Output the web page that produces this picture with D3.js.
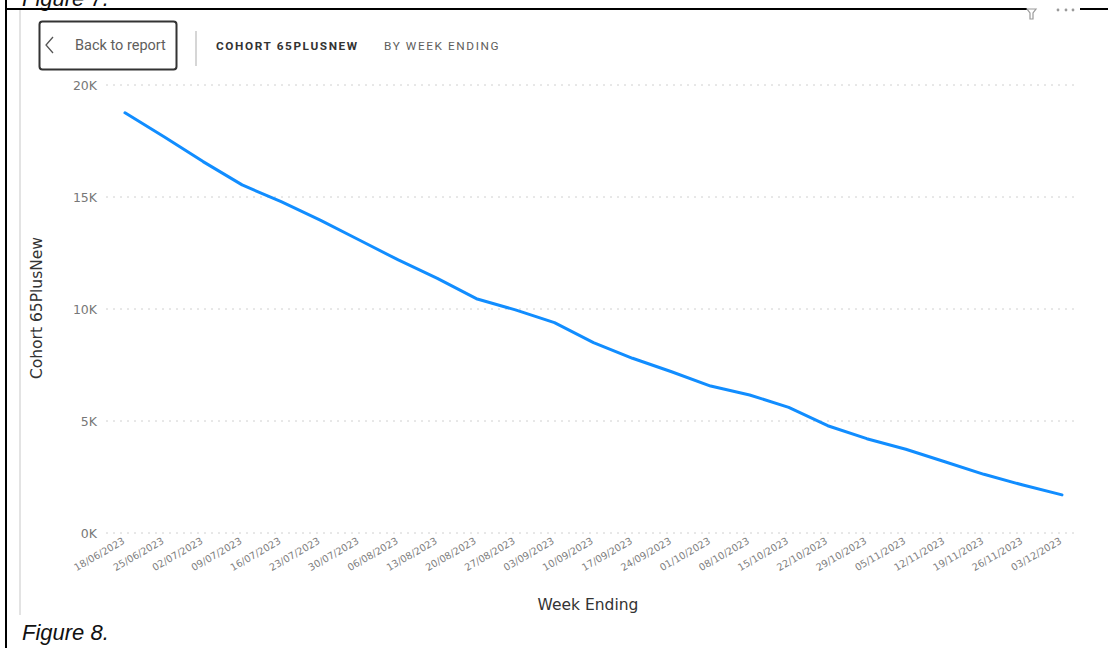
<!DOCTYPE html>
<html>
<head>
<meta charset="utf-8">
<script src="https://cdn.jsdelivr.net/npm/d3@7"></script>
<style>
  html, body { margin: 0; padding: 0; background: #fff; }
  svg { display: block; }
</style>
</head>
<body>
<svg id="chart" width="1108" height="648"></svg>
<script>
// Weekly cohort counts
const weeks = ["18/06/2023","25/06/2023","02/07/2023","09/07/2023","16/07/2023","23/07/2023","30/07/2023",
  "06/08/2023","13/08/2023","20/08/2023","27/08/2023","03/09/2023","10/09/2023","17/09/2023","24/09/2023",
  "01/10/2023","08/10/2023","15/10/2023","22/10/2023","29/10/2023","05/11/2023","12/11/2023","19/11/2023",
  "26/11/2023","03/12/2023"];
const cohortValues = [18760, 17690, 16580, 15540, 14790, 13970, 13080, 12190, 11370, 10460, 9960, 9390,
  8500, 7800, 7200, 6560, 6160, 5610, 4790, 4210, 3740, 3180, 2620, 2140, 1700];
const yTicks = [0, 5000, 10000, 15000, 20000];
const yTickLabels = ["0K", "5K", "10K", "15K", "20K"];

const svg = d3.select("#chart");
const W = 1108, H = 648;

// document frame
svg.append("text").attr("x", 22).attr("y", 6)
  .attr("font-family", "Liberation Sans, sans-serif").attr("font-style", "italic")
  .attr("font-size", 22).attr("fill", "#111").text("Figure 7.");
svg.append("line").attr("x1", 6).attr("x2", W).attr("y1", 9).attr("y2", 9)
  .attr("stroke", "#000").attr("stroke-width", 2);
svg.append("line").attr("x1", 6).attr("x2", 6).attr("y1", 0).attr("y2", H)
  .attr("stroke", "#000").attr("stroke-width", 2);
svg.append("text").attr("x", 22).attr("y", 640)
  .attr("font-family", "Liberation Sans, sans-serif").attr("font-style", "italic")
  .attr("font-size", 22).attr("fill", "#111").text("Figure 8.");

// report visual edge
svg.append("line").attr("x1", 20).attr("x2", 20).attr("y1", 10).attr("y2", 615)
  .attr("stroke", "#e3e3e3").attr("stroke-width", 2);

// header icons (filter + more)
svg.append("rect").attr("x", 1027).attr("y", 5).attr("width", 53).attr("height", 10).attr("fill", "#fff");
svg.append("path").attr("d", "M1027,9 L1036,9 L1033,13 L1033,19 L1030,19 L1030,13 Z")
  .attr("fill", "none").attr("stroke", "#9a9a9a").attr("stroke-width", 1.2);
[1058, 1066, 1073].forEach(cx => svg.append("circle").attr("cx", cx).attr("cy", 10).attr("r", 1.4).attr("fill", "#9a9a9a"));

// back button
svg.append("rect").attr("x", 39.5).attr("y", 21.5).attr("width", 137).attr("height", 48).attr("rx", 3)
  .attr("fill", "#fff").attr("stroke", "#333").attr("stroke-width", 2);
svg.append("path").attr("d", "M53,37 L46,45 L53,53").attr("fill", "none")
  .attr("stroke", "#555").attr("stroke-width", 1.3);
svg.append("text").attr("x", 75).attr("y", 50)
  .attr("font-family", "Roboto, sans-serif").attr("font-size", 14.5).attr("fill", "#605e5c")
  .text("Back to report");
svg.append("line").attr("x1", 196).attr("x2", 196).attr("y1", 31).attr("y2", 66)
  .attr("stroke", "#c8c8c8").attr("stroke-width", 1.5);
svg.append("text").attr("x", 216).attr("y", 49.5)
  .attr("font-family", "Roboto, sans-serif").attr("font-size", 11.8).attr("font-weight", "bold")
  .attr("letter-spacing", 1.6).attr("fill", "#333").text("COHORT 65PLUSNEW");
svg.append("text").attr("x", 384).attr("y", 49.5)
  .attr("font-family", "Roboto, sans-serif").attr("font-size", 11.8)
  .attr("letter-spacing", 1.6).attr("fill", "#605e5c").text("BY WEEK ENDING");

// scales
const x = d3.scalePoint().domain(weeks).range([125, 1062]);
const y = d3.scaleLinear().domain([0, 20000]).range([533, 85]);

// gridlines
const grid = svg.append("g");
grid.selectAll("line").data(yTicks).join("line")
  .attr("x1", 106).attr("x2", 1077)
  .attr("y1", d => y(d)).attr("y2", d => y(d))
  .attr("stroke", "#d0d0d0").attr("stroke-width", 1).attr("stroke-dasharray", "2,5");

// y axis
const yAxis = d3.axisLeft(y).tickValues(yTicks).tickSize(0).tickPadding(0)
  .tickFormat((d, i) => yTickLabels[i]);
const gy = svg.append("g").attr("transform", "translate(97,0)").call(yAxis);
gy.select(".domain").remove();
gy.selectAll("text").attr("font-family", "DejaVu Sans, sans-serif").attr("font-size", 12.5)
  .attr("fill", "#777");

svg.append("text").attr("transform", "translate(42,308) rotate(-90)")
  .attr("text-anchor", "middle").attr("font-family", "DejaVu Sans, sans-serif")
  .attr("font-size", 15.5).attr("fill", "#333").text("Cohort 65PlusNew");

// x axis
const xAxis = d3.axisBottom(x).tickSize(0).tickPadding(0);
const gx = svg.append("g").attr("transform", "translate(0,543)").call(xAxis);
gx.select(".domain").remove();
gx.selectAll("text")
  .attr("font-family", "DejaVu Sans, sans-serif").attr("font-size", 9.8).attr("fill", "#808080")
  .attr("text-anchor", "end").attr("dy", 0).attr("y", 0)
  .attr("transform", "translate(0,0) rotate(-30)");

svg.append("text").attr("x", 588).attr("y", 610).attr("text-anchor", "middle")
  .attr("font-family", "DejaVu Sans, sans-serif").attr("font-size", 15.5).attr("fill", "#333")
  .text("Week Ending");

// series line
const line = d3.line().x((d, i) => x(weeks[i])).y(d => y(d));
svg.append("path").datum(cohortValues).attr("d", line)
  .attr("fill", "none").attr("stroke", "#118dff").attr("stroke-width", 3)
  .attr("stroke-linejoin", "round").attr("stroke-linecap", "round");
</script>
</body>
</html>
